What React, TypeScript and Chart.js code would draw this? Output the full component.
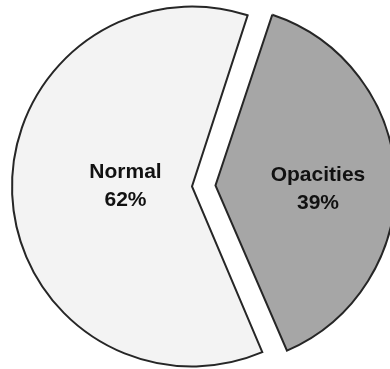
import { useEffect, useRef } from "react";
import { Chart, ArcElement, PieController } from "chart.js";

Chart.register(ArcElement, PieController);

// Slice data
const categories = ["Opacities", "Normal"];
const percentages = [39, 62];

// Slice styling
const sliceColors = ["#a6a6a6", "#f3f3f3"];
const sliceOffsets = [94, 0]; // arc elements shift by offset / 4 px
const labelRadius = [0.57, 0.37]; // label distance as a fraction of the radius
const labelShiftY = [8, -3]; // small vertical nudge for each label, px

// Keep the exploded slice at the same radius as the rest of the pie.
const evenRadiusPlugin = {
  id: "evenRadius",
  beforeDatasetsDraw(chart: any) {
    const meta = chart.getDatasetMeta(0);
    const base = meta.controller.outerRadius;
    meta.data.forEach((arc: any) => {
      const shift = (arc.options.offset || 0) / 4;
      const fix = 1 - Math.sin(Math.min(Math.PI, arc.circumference || 0));
      arc.outerRadius = base - shift * fix;
    });
  },
};

// Two-line labels (name + percentage) inside each slice.
const sliceLabelPlugin = {
  id: "sliceLabels",
  afterDatasetsDraw(chart: any) {
    const meta = chart.getDatasetMeta(0);
    const ctx = chart.ctx as CanvasRenderingContext2D;
    const base = meta.controller.outerRadius;
    ctx.save();
    ctx.font = "bold 21px 'Liberation Sans', Arial, sans-serif";
    ctx.fillStyle = "#111111";
    ctx.textAlign = "center";
    ctx.textBaseline = "middle";
    meta.data.forEach((arc: any, i: number) => {
      const { x, y, startAngle, endAngle } = arc.getProps(
        ["x", "y", "startAngle", "endAngle"],
        true
      );
      const mid = (startAngle + endAngle) / 2;
      const shift = (arc.options.offset || 0) / 4;
      const r = shift + base * labelRadius[i];
      const cx = x + Math.cos(mid) * r;
      const cy = y + Math.sin(mid) * r + labelShiftY[i];
      ctx.fillText(categories[i], cx, cy - 14);
      ctx.fillText(`${percentages[i]}%`, cx, cy + 14);
    });
    ctx.restore();
  },
};

export default function App() {
  const canvasRef = useRef<HTMLCanvasElement | null>(null);

  useEffect(() => {
    if (!canvasRef.current) return;
    const chart = new Chart(canvasRef.current, {
      type: "pie",
      data: {
        labels: categories,
        datasets: [
          {
            data: percentages,
            backgroundColor: sliceColors,
            borderColor: "#262626",
            borderWidth: 2,
            borderJoinStyle: "miter",
            offset: sliceOffsets,
            radius: 180,
          } as any,
        ],
      },
      options: {
        responsive: false,
        animation: false,
        events: [],
        rotation: 18,
        layout: { padding: { left: 0, right: 6, top: 4, bottom: 0 } },
        plugins: {
          legend: { display: false },
          tooltip: { enabled: false },
        },
      },
      plugins: [evenRadiusPlugin, sliceLabelPlugin],
    });
    return () => chart.destroy();
  }, []);

  return (
    <div
      style={{
        position: "absolute",
        left: 0,
        top: 0,
        width: 390,
        height: 369,
        background: "#ffffff",
      }}
    >
      <canvas ref={canvasRef} width={390} height={369} />
    </div>
  );
}
